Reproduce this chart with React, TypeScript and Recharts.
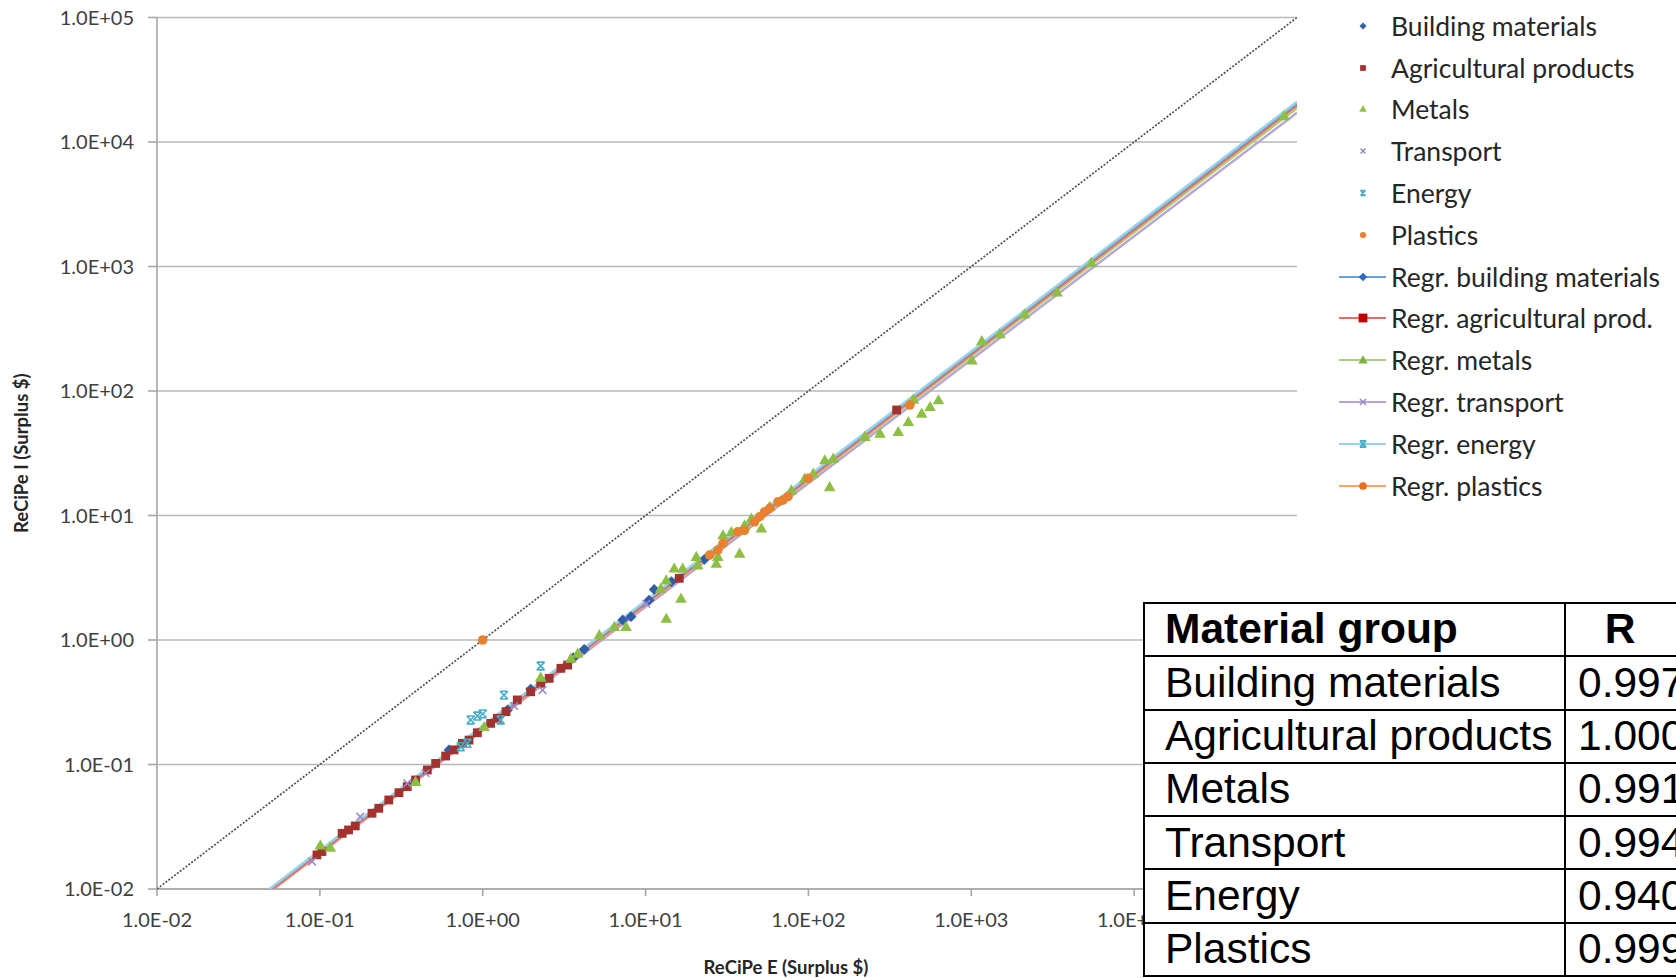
import React from "react";
import { ScatterChart, Scatter, XAxis, YAxis, CartesianGrid, Legend, Label } from "recharts";

type Pt = [number, number];

// ---- Data (x = ReCiPe E, y = ReCiPe I, Surplus $) ----
const buildingMaterials: Pt[] = [
  [0.621, 0.131], [1.42, 0.274], [1.97, 0.402], [3.6, 0.72], [4.2, 0.841], [7.24, 1.45],
  [8.14, 1.54], [10.5, 2.09], [11.3, 2.55], [14.4, 2.94], [23.0, 4.45],
];
const agriculturalProducts: Pt[] = [
  [0.096, 0.0188], [0.103, 0.02], [0.137, 0.028], [0.15, 0.0298], [0.165, 0.0321], [0.209, 0.0406],
  [0.23, 0.0445], [0.265, 0.0519], [0.306, 0.0594], [0.344, 0.0664], [0.387, 0.0751], [0.457, 0.0904],
  [0.514, 0.102], [0.592, 0.117], [0.667, 0.131], [0.75, 0.148], [0.824, 0.157], [0.927, 0.18],
  [1.12, 0.214], [1.23, 0.235], [1.39, 0.266], [1.63, 0.33], [1.97, 0.384], [2.27, 0.449],
  [2.56, 0.492], [3.02, 0.592], [3.32, 0.629], [16.1, 3.13], [348, 70.4],
];
const metals: Pt[] = [
  [0.1007, 0.0225], [0.116, 0.0216], [0.387, 0.0728], [1.02, 0.201], [2.27, 0.501], [3.48, 0.713],
  [3.83, 0.782], [5.2, 1.1], [6.43, 1.28], [7.59, 1.28], [12.4, 2.6], [13.4, 3.03], [13.4, 1.49],
  [15.0, 3.77], [16.5, 2.16], [16.9, 3.77], [20.5, 4.67], [20.9, 4.0], [27.2, 4.13], [27.8, 4.67],
  [29.9, 6.97], [33.6, 7.41], [37.8, 4.96], [40.5, 8.39], [44.6, 9.49], [51.4, 7.9], [57.8, 11.8],
  [78.5, 16.0], [94.9, 19.9], [107, 21.8], [126, 27.9], [135, 17.0], [142, 28.8], [222, 43.0],
  [275, 45.7], [356, 47.1], [411, 56.6], [441, 85.8], [496, 66.2], [558, 74.8], [629, 84.7],
  [1010, 177], [1160, 253], [1500, 287], [2120, 415], [3360, 621], [5460, 1074], [83400, 16200],
];
const transport: Pt[] = [
  [0.0895, 0.0166], [0.177, 0.0381], [0.344, 0.0706], [0.446, 0.085], [1.56, 0.295], [2.33, 0.396],
  [10.1, 1.95],
];
const energy: Pt[] = [
  [0.733, 0.139], [0.805, 0.148], [0.844, 0.228], [0.927, 0.245], [1.0, 0.255], [1.29, 0.228],
  [1.35, 0.361], [2.27, 0.618],
];
const plastics: Pt[] = [
  [1, 1], [24.7, 4.81], [27.8, 5.28], [29.9, 5.98], [36.9, 7.41], [40.5, 7.6], [46.7, 8.91],
  [50.2, 9.78], [53.8, 10.7], [57.8, 11.4], [65.1, 12.9], [69.8, 13.3], [75.0, 14.2], [100, 19.9],
  [420, 77.2],
];

// Regression lines (end points)
const regBuilding: Pt[] = [[0.0495, 0.01], [100000, 20500]];
const regAgricultural: Pt[] = [[0.051, 0.01], [100000, 19800]];
const regMetals: Pt[] = [[0.051, 0.01], [100000, 18700]];
const regTransport: Pt[] = [[0.052, 0.01], [100000, 17200]];
const regEnergy: Pt[] = [[0.049, 0.01], [100000, 21100]];
const regPlastics: Pt[] = [[0.052, 0.01], [100000, 19600]];
const identityLine: Pt[] = [[0.01, 0.01], [100000, 100000]];

// Axis ticks
const axisTicks = [0.01, 0.1, 1, 10, 100, 1000, 10000, 100000];
const xTickLabels = ["1.0E-02", "1.0E-01", "1.0E+00", "1.0E+01", "1.0E+02", "1.0E+03", "1.0E+04", "1.0E+05"];
const yTickLabels = ["1.0E-02", "1.0E-01", "1.0E+00", "1.0E+01", "1.0E+02", "1.0E+03", "1.0E+04", "1.0E+05"];

// Table
const materialGroups = ["Building materials", "Agricultural products", "Metals", "Transport", "Energy", "Plastics"];
const rValues = ["0.997", "1.000", "0.991", "0.994", "0.940", "0.999"];

const toPoints = (a: Pt[]) => a.map(([x, y]) => ({ x, y }));

type Kind = "diamond" | "square" | "triangle" | "x" | "star" | "circle";

function Glyph({ kind, cx, cy, color, s = 1 }: { kind: Kind; cx: number; cy: number; color: string; s?: number }) {
  if (cx == null || cy == null || isNaN(cx) || isNaN(cy)) return <g />;
  switch (kind) {
    case "diamond": {
      const r = 5.4 * s;
      return <polygon points={`${cx},${cy - r} ${cx + r},${cy} ${cx},${cy + r} ${cx - r},${cy}`} fill={color} />;
    }
    case "square": {
      const h = 4.4 * s;
      return <rect x={cx - h} y={cy - h} width={2 * h} height={2 * h} fill={color} />;
    }
    case "triangle": {
      const r = 5.8 * s;
      return <polygon points={`${cx},${cy - r} ${cx + r},${cy + r * 0.75} ${cx - r},${cy + r * 0.75}`} fill={color} />;
    }
    case "x": {
      const h = 3.8 * s;
      return (
        <path d={`M${cx - h},${cy - h}L${cx + h},${cy + h}M${cx - h},${cy + h}L${cx + h},${cy - h}`} stroke={color} strokeWidth={1.5} fill="none" />
      );
    }
    case "star": {
      const h = 3.9 * s;
      return (
        <path
          d={`M${cx - h},${cy - h}L${cx + h},${cy + h}M${cx - h},${cy + h}L${cx + h},${cy - h}M${cx - h},${cy - h}L${cx + h},${cy - h}M${cx - h},${cy + h}L${cx + h},${cy + h}`}
          stroke={color}
          strokeWidth={1.6}
          fill="none"
        />
      );
    }
    case "circle":
    default:
      return <circle cx={cx} cy={cy} r={4.8 * s} fill={color} />;
  }
}

const pointSeries: { name: string; data: Pt[]; kind: Kind; color: string }[] = [
  { name: "Building materials", data: buildingMaterials, kind: "diamond", color: "#2f5ea8" },
  { name: "Agricultural products", data: agriculturalProducts, kind: "square", color: "#a3322f" },
  { name: "Metals", data: metals, kind: "triangle", color: "#8dbf45" },
  { name: "Transport", data: transport, kind: "x", color: "#9a87c4" },
  { name: "Energy", data: energy, kind: "star", color: "#45adc9" },
  { name: "Plastics", data: plastics, kind: "circle", color: "#e8822f" },
];

const lineSeries: { name: string; data: Pt[]; kind: Kind; color: string; marker: string }[] = [
  { name: "Regr. building materials", data: regBuilding, kind: "diamond", color: "#6ea1dc", marker: "#2f6bc0" },
  { name: "Regr. agricultural prod.", data: regAgricultural, kind: "square", color: "#e86a62", marker: "#c00000" },
  { name: "Regr. metals", data: regMetals, kind: "triangle", color: "#a9d07a", marker: "#7fb13f" },
  { name: "Regr. transport", data: regTransport, kind: "x", color: "#b6a4d4", marker: "#9a87c4" },
  { name: "Regr. energy", data: regEnergy, kind: "star", color: "#99d3e6", marker: "#45adc9" },
  { name: "Regr. plastics", data: regPlastics, kind: "circle", color: "#f5a46a", marker: "#e86f1a" },
];

const lineDrawOrder = [3, 2, 5, 1, 0, 4];

const FONT = "Lato, 'Open Sans', sans-serif";

function LegendBox() {
  const rowH = 41.8;
  return (
    <div style={{ fontFamily: FONT, fontSize: 26.5, color: "#262626" }}>
      {pointSeries.map((s) => (
        <div key={s.name} style={{ height: rowH, display: "flex", alignItems: "center" }}>
          <svg width={54} height={20} style={{ flex: "none" }}>
            <Glyph kind={s.kind} cx={30} cy={10} color={s.color} s={0.65} />
          </svg>
          <span style={{ marginLeft: 4, whiteSpace: "nowrap" }}>{s.name}</span>
        </div>
      ))}
      {lineSeries.map((s) => (
        <div key={s.name} style={{ height: rowH, display: "flex", alignItems: "center" }}>
          <svg width={54} height={20} style={{ flex: "none" }}>
            <line x1={6} y1={10} x2={53} y2={10} stroke={s.color} strokeWidth={2.2} />
            <Glyph kind={s.kind} cx={30} cy={10} color={s.marker} s={s.kind === "square" ? 1.0 : 0.8} />
          </svg>
          <span style={{ marginLeft: 4, whiteSpace: "nowrap" }}>{s.name}</span>
        </div>
      ))}
    </div>
  );
}

function RTable() {
  const cell: React.CSSProperties = {
    border: "2px solid #000",
    height: 53.3,
    padding: "0 0 0 20px",
    boxSizing: "border-box",
    lineHeight: 1,
    whiteSpace: "nowrap",
    verticalAlign: "middle",
  };
  return (
    <table
      style={{
        position: "absolute",
        left: 1143,
        top: 602,
        borderCollapse: "collapse",
        tableLayout: "fixed",
        width: 560,
        background: "#fff",
        fontFamily: "'Liberation Sans', Arial, sans-serif",
        fontSize: 42.5,
        color: "#000",
      }}
    >
      <colgroup>
        <col style={{ width: 421 }} />
        <col style={{ width: 139 }} />
      </colgroup>
      <tbody>
        <tr>
          <td style={{ ...cell, fontWeight: 700 }}>Material group</td>
          <td style={{ ...cell, fontWeight: 700, padding: "0 29px 0 0", textAlign: "center" }}>R</td>
        </tr>
        {materialGroups.map((g, i) => (
          <tr key={g}>
            <td style={cell}>{g}</td>
            <td style={{ ...cell, padding: "0 0 0 12px" }}>{rValues[i]}</td>
          </tr>
        ))}
      </tbody>
    </table>
  );
}

const YTitle = (props: any) => {
  const vb = props.viewBox || {};
  const cx = 21;
  const cy = (vb.y ?? 0) + (vb.height ?? 0) / 2;
  return (
    <text x={cx} y={cy} transform={`rotate(-90 ${cx} ${cy})`} textAnchor="middle" dominantBaseline="central"
      style={{ fontFamily: FONT, fontWeight: 700, fontSize: 18.5, fill: "#262626" }}>
      ReCiPe I (Surplus $)
    </text>
  );
};

const XTitle = (props: any) => {
  const vb = props.viewBox || {};
  const cx = (vb.x ?? 0) + (vb.width ?? 0) / 2 + 59;
  const cy = 967;
  return (
    <text x={cx} y={cy} textAnchor="middle" dominantBaseline="central"
      style={{ fontFamily: FONT, fontWeight: 700, fontSize: 18.5, fill: "#262626" }}>
      ReCiPe E (Surplus $)
    </text>
  );
};

export default function App() {
  const tickStyle = { fontFamily: FONT, fontSize: 20, fill: "#404040" };
  return (
    <div style={{ position: "absolute", left: 0, top: 0, width: 1676, height: 978, overflow: "hidden", background: "#fff" }}>
      <ScatterChart width={1676} height={978} margin={{ top: 17.5, right: 379, bottom: 0, left: 0 }}>
        <CartesianGrid vertical={false} stroke="#b8b8b8" strokeWidth={1.7} />
        <XAxis
          type="number"
          dataKey="x"
          scale="log"
          domain={[0.01, 100000]}
          ticks={axisTicks}
          allowDataOverflow
          height={89}
          tickSize={7}
          tickMargin={17}
          tick={tickStyle}
          stroke="#a6a6a6"
          strokeWidth={1.6}
          tickFormatter={(_v: number, i: number) => xTickLabels[i]}
        >
          <Label content={XTitle} />
        </XAxis>
        <YAxis
          type="number"
          dataKey="y"
          scale="log"
          domain={[0.01, 100000]}
          ticks={axisTicks}
          allowDataOverflow
          width={157}
          tickSize={9}
          tickMargin={14}
          tick={tickStyle}
          stroke="#a6a6a6"
          strokeWidth={1.6}
          tickFormatter={(_v: number, i: number) => yTickLabels[i]}
        >
          <Label content={YTitle} />
        </YAxis>
        <Legend
          layout="vertical"
          align="center"
          verticalAlign="middle"
          content={() => <LegendBox />}
          wrapperStyle={{ position: "absolute", left: 1333, top: 5, width: 343, height: 510 }}
        />
        <Scatter
          name="1:1"
          data={toPoints(identityLine)}
          line={{ stroke: "#505050", strokeWidth: 1.7, strokeDasharray: "2 1.6" }}
          shape={() => <g />}
          isAnimationActive={false}
          legendType="none"
        />
        {lineDrawOrder.map((i) => {
          const s = lineSeries[i];
          return (
            <Scatter
              key={s.name}
              name={s.name}
              data={toPoints(s.data)}
              line={{ stroke: s.color, strokeWidth: 2.4 }}
              shape={() => <g />}
              isAnimationActive={false}
            />
          );
        })}
        {pointSeries.map((s) => (
          <Scatter
            key={s.name}
            name={s.name}
            data={toPoints(s.data)}
            isAnimationActive={false}
            shape={(p: any) => <Glyph kind={s.kind} cx={p.cx} cy={p.cy} color={s.color} />}
          />
        ))}
      </ScatterChart>
      <RTable />
    </div>
  );
}
